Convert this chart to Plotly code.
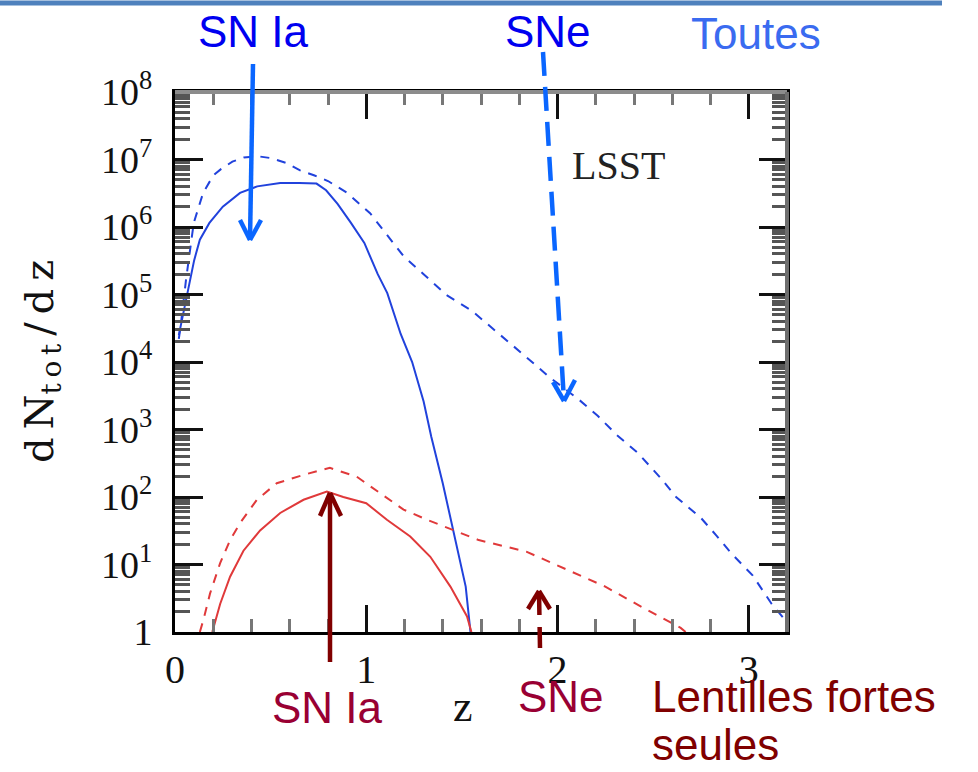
import plotly.graph_objects as go

# Redshift distributions of supernovae for LSST (dN_tot/dz)
z_ia_all = [0.02, 0.035, 0.07, 0.10, 0.13, 0.18, 0.25, 0.34, 0.43, 0.55, 0.65, 0.74,
            0.79, 0.85, 0.92, 0.99, 1.06, 1.11, 1.18, 1.24, 1.30, 1.34, 1.40, 1.46,
            1.52, 1.545]
n_ia_all = [2.5e4, 4.0e4, 1.3e5, 3.2e5, 6.5e5, 1.15e6, 2.0e6, 3.2e6, 4.0e6, 4.5e6,
            4.5e6, 4.4e6, 3.5e6, 2.2e6, 1.15e6, 5.8e5, 2.0e5, 1.05e5, 2.6e4, 1.0e4,
            2.6e3, 780, 160, 26, 4.7, 1.0]

z_sne_all = [0.02, 0.03, 0.057, 0.098, 0.147, 0.20, 0.24, 0.30, 0.36, 0.43, 0.50,
             0.58, 0.654, 0.73, 0.80, 0.90, 1.02, 1.09, 1.195, 1.30, 1.42, 1.55,
             1.67, 1.78, 1.88, 1.96, 2.11, 2.21, 2.31, 2.42, 2.54, 2.62, 2.75, 2.83,
             2.91, 3.02, 3.12, 3.2]
n_sne_all = [2.2e4, 3.5e4, 1.6e5, 1.15e6, 3.2e6, 5.8e6, 7.2e6, 9.3e6, 1.07e7, 1.12e7,
             1.05e7, 8.9e6, 6.9e6, 5.8e6, 4.8e6, 3.2e6, 1.6e6, 8.9e5, 3.7e5, 2.0e5,
             9.8e4, 5.8e4, 3.0e4, 1.66e4, 9.3e3, 5.9e3, 2.8e3, 1.6e3, 830, 450, 190,
             100, 49, 27, 14.5, 6.9, 2.6, 1.4]

# Strongly lensed events only
z_ia_lens = [0.195, 0.236, 0.288, 0.358, 0.445, 0.55, 0.672, 0.794, 0.88, 1.0, 1.108,
             1.23, 1.335, 1.44, 1.527, 1.55]
n_ia_lens = [1.0, 2.6, 6.6, 16, 32, 58, 91, 120, 100, 81, 46, 26, 13, 4.7, 1.7, 1.0]

z_sne_lens = [0.13, 0.148, 0.183, 0.236, 0.288, 0.34, 0.428, 0.532, 0.69, 0.81, 0.95,
              1.073, 1.195, 1.318, 1.457, 1.588, 1.837, 2.044, 2.25, 2.458, 2.644, 2.67]
n_sne_lens = [1.0, 1.5, 3.7, 10.5, 23, 41, 91, 160, 220, 270, 200, 112, 65, 46, 32, 23,
              15.5, 8.5, 4.7, 2.2, 1.15, 1.0]

y_tickvals = [1, 10, 100, 1e3, 1e4, 1e5, 1e6, 1e7, 1e8]
y_ticktext = ["1"] + ["10<sup>%d</sup>" % k for k in range(1, 9)]
x_tickvals = [0, 1, 2, 3]
x_ticktext = ["0", "1", "2", "3"]

W, H = 978, 772
L, R, T, B = 175, 787, 92, 632


def px(xp):
    return (xp - L) / (R - L)


def py(yp):
    return (B - yp) / (B - T)


BLUE = "#2142dc"
RED = "#e0393a"
ARROW_BLUE = "#0a66ff"
MAROON = "#800000"

fig = go.Figure()
fig.add_trace(go.Scatter(x=z_sne_all, y=n_sne_all, mode="lines",
                         line=dict(color=BLUE, width=2, dash="9px,8px")))
fig.add_trace(go.Scatter(x=z_ia_all, y=n_ia_all, mode="lines",
                         line=dict(color=BLUE, width=2)))
fig.add_trace(go.Scatter(x=z_sne_lens, y=n_sne_lens, mode="lines",
                         line=dict(color=RED, width=2, dash="9px,8px")))
fig.add_trace(go.Scatter(x=z_ia_lens, y=n_ia_lens, mode="lines",
                         line=dict(color=RED, width=2)))

shapes = []


def seg(x0, y0, x1, y1, color, width, dash="solid", layer="above"):
    shapes.append(dict(type="line", xref="paper", yref="paper",
                       x0=px(x0), y0=py(y0), x1=px(x1), y1=py(y1),
                       line=dict(color=color, width=width, dash=dash), layer=layer))


def arrow(x0, y0, x1, y1, arm_a, arm_b, color, width, dash="solid"):
    seg(x0, y0, x1, y1, color, width, dash)
    seg(arm_a[0], arm_a[1], x1, y1, color, width)
    seg(arm_b[0], arm_b[1], x1, y1, color, width)


# header rule
seg(0, 3, 942, 3, "#4f81bd", 5)
# grey top and right frame edges
seg(L, T, R, T, "#8c8c8c", 4)
seg(R, T, R, B, "#6e6e6e", 4)

# pointer arrows
arrow(253, 64, 250, 240, (240, 220), (261, 220), ARROW_BLUE, 4.5)
arrow(543, 52, 564, 401, (553, 382), (575, 380), ARROW_BLUE, 4.5, dash="24px,11px")
arrow(330, 662, 330, 493, (320, 516), (341, 516), MAROON, 4.5)
arrow(540, 648, 539, 591, (528, 609), (550, 609), MAROON, 4.5, dash="21px,12px")

ann = []


def label(text, x, y, color, size, family="Liberation Sans", xanchor="center", angle=0):
    ann.append(dict(text=text, x=px(x), y=py(y), xref="paper", yref="paper",
                    showarrow=False, xanchor=xanchor, yanchor="middle",
                    textangle=angle, font=dict(color=color, size=size, family=family)))


TS = "\u2009"
label("SN Ia", 253, 31, "#0000f0", 44)
label("SNe", 548, 31, "#0000f0", 44)
label("Toutes", 756, 33, "#3a6bf0", 44)
label("SN Ia", 327, 707, "#990033", 44)
label("SNe", 561, 696, "#990033", 44)
label("Lentilles fortes", 650, 696, MAROON, 44, xanchor="left")
label("seules", 650, 744, MAROON, 44, xanchor="left")
label("LSST", 618, 165, "#222222", 40, family="Liberation Serif")
label("z", 463, 706, "#111111", 44, family="Liberation Serif")
label("d" + TS + "N<sub>t" + TS + "o" + TS + "t</sub>" + TS + "/" + TS + "d" + TS + "z",
      42, 362, "#111111", 40, family="DejaVu Serif", angle=-90)

fig.update_layout(
    width=W, height=H,
    margin=dict(l=L, r=W - R, t=T, b=H - B, pad=0),
    paper_bgcolor="white", plot_bgcolor="white",
    showlegend=False,
    shapes=shapes, annotations=ann,
    xaxis=dict(range=[0, 3.2], tickvals=x_tickvals, ticktext=x_ticktext,
               ticks="inside", ticklen=27, tickwidth=2.5, tickcolor="#111",
               showline=True, linecolor="#000", linewidth=3, mirror="allticks",
               showgrid=False, zeroline=False, ticklabelstandoff=0,
               tickfont=dict(family="Liberation Serif", size=40, color="#111"),
               minor=dict(dtick=0.2, ticks="inside", ticklen=13, tickwidth=2.5,
                          tickcolor="#777", showgrid=False)),
    yaxis=dict(type="log", range=[0, 8], tickvals=y_tickvals, ticktext=y_ticktext,
               ticks="inside", ticklen=28, tickwidth=2.5, tickcolor="#111",
               showline=True, linecolor="#000", linewidth=3, mirror="allticks",
               showgrid=False, zeroline=False, ticklabelstandoff=12,
               tickfont=dict(family="Liberation Serif", size=38, color="#111"),
               minor=dict(tickvals=[m * 10 ** k for k in range(8) for m in range(2, 10)],
                          ticks="inside", ticklen=15, tickwidth=2.5,
                          tickcolor="#555", showgrid=False)),
)

fig.write_html("out.html")
